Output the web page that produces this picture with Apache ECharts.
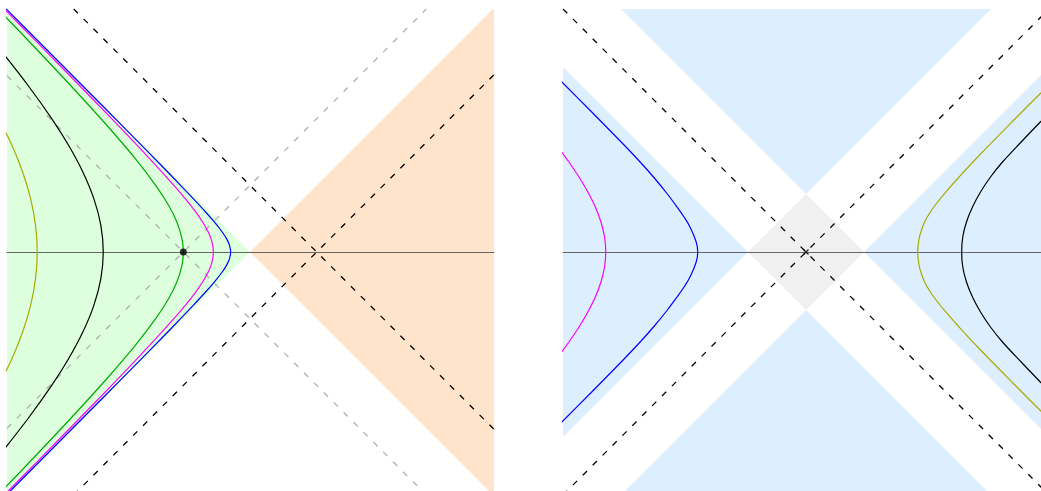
<!DOCTYPE html>
<html><head><meta charset="utf-8">
<script src="https://cdn.jsdelivr.net/npm/echarts@6/dist/echarts.min.js"></script>
<style>html,body{margin:0;padding:0;background:#fff}#c{width:1041px;height:491px}</style>
</head><body><div id="c"></div>
<script>
// ---------- Left panel (unit: the two marked events sit at x = -1 and x = +1) ----------
const leftExtent = {xmin: -3.643, xmax: 3.658, ymin: -3.643, ymax: 3.643};
const leftGreenWedge = [[0, 0], [-3.643, 3.643], [-3.643, -3.643]];
const leftOrangeWedge = [[0, 0], [3.643, 3.643], [3.7, 3.643], [3.7, -3.7], [3.643, -3.643]];
const leftBlackDashA = [[-2.643, 3.643], [3.658, -2.658]];
const leftBlackDashB = [[-2.643, -3.643], [3.658, 2.658]];
const leftGrayDashA = [[-3.643, -2.643], [2.643, 3.643]];
const leftGrayDashB = [[-3.643, 2.643], [2.643, -3.643]];
const leftEvent = [[-1, 0]];
const leftBlue = [[-3.911,3.9],[-3.412,3.4],[-2.815,2.8],[-2.219,2.2],[-1.725,1.7],[-1.332,1.3],[-1.041,1.0],[-0.851,0.8],[-0.666,0.6],[-0.535,0.45],[-0.417,0.3],[-0.352,0.2],[-0.307,0.1],[-0.290,0],
  [-0.307,-0.1],[-0.352,-0.2],[-0.417,-0.3],[-0.535,-0.45],[-0.666,-0.6],[-0.851,-0.8],[-1.041,-1.0],[-1.332,-1.3],[-1.725,-1.7],[-2.219,-2.2],[-2.815,-2.8],[-3.412,-3.4],[-3.911,-3.9]];
const leftMagenta = [[-3.939,3.9],[-3.444,3.4],[-2.854,2.8],[-2.268,2.2],[-1.787,1.7],[-1.412,1.3],[-1.141,1.0],[-0.971,0.8],[-0.814,0.6],[-0.711,0.45],[-0.626,0.3],[-0.585,0.2],[-0.559,0.1],[-0.550,0],
  [-0.559,-0.1],[-0.585,-0.2],[-0.626,-0.3],[-0.711,-0.45],[-0.814,-0.6],[-0.971,-0.8],[-1.141,-1.0],[-1.412,-1.3],[-1.787,-1.7],[-2.268,-2.2],[-2.854,-2.8],[-3.444,-3.4],[-3.939,-3.9]];
const leftGreen = [[-3.833,3.7],[-3.257,3.1],[-2.693,2.5],[-2.147,1.9],[-1.720,1.4],[-1.414,1.0],[-1.221,0.7],[-1.097,0.45],[-1.020,0.2],[-1.0,0],
  [-1.020,-0.2],[-1.097,-0.45],[-1.221,-0.7],[-1.414,-1.0],[-1.720,-1.4],[-2.147,-1.9],[-2.693,-2.5],[-3.257,-3.1],[-3.833,-3.7]];
const leftBlack = [[-3.720,3.0],[-3.330,2.5],[-2.973,2.0],[-2.720,1.6],[-2.506,1.2],[-2.341,0.8],[-2.236,0.4],[-2.2,0],
  [-2.236,-0.4],[-2.341,-0.8],[-2.506,-1.2],[-2.720,-1.6],[-2.973,-2.0],[-3.330,-2.5],[-3.720,-3.0]];
const leftOlive = [[-3.766,2.0],[-3.569,1.6],[-3.409,1.2],[-3.289,0.8],[-3.215,0.4],[-3.19,0],
  [-3.215,-0.4],[-3.289,-0.8],[-3.409,-1.2],[-3.569,-1.6],[-3.766,-2.0]];

// ---------- Right panel (unit: half-diagonal of the grey diamond) ----------
const rightExtent = {xmin: -4.19, xmax: 4.19, ymin: -4.19, ymax: 4.19};
const rightDiamond = [[1, 0], [0, 1], [-1, 0], [0, -1]];
const rightBlueLeft = [[-1, 0], [-4.19, 3.19], [-4.19, -3.19]];
const rightBlueRight = [[1, 0], [4.19, 3.19], [4.19, -3.19]];
const rightBlueTop = [[0, 1], [-3.19, 4.19], [3.19, 4.19]];
const rightBlueBottom = [[0, -1], [-3.19, -4.19], [3.19, -4.19]];
const rightDashA = [[-4.19, -4.19], [4.19, 4.19]];
const rightDashB = [[-4.19, 4.19], [4.19, -4.19]];
const rightOrigin = [[0, 0]];
const rightBlue = [[-4.293,3.017],[-3.695,2.414],[-3.17,1.879],[-2.86,1.552],[-2.615,1.276],[-2.39,1.0],[-2.224,0.776],[-2.103,0.603],[-2.0,0.431],[-1.893,0.172],[-1.867,0],
  [-1.893,-0.172],[-2.0,-0.431],[-2.103,-0.603],[-2.224,-0.776],[-2.39,-1.0],[-2.615,-1.276],[-2.86,-1.552],[-3.17,-1.879],[-3.695,-2.414],[-4.293,-3.017]];
const rightMagenta = [[-4.276,1.810],[-4.088,1.552],[-3.914,1.293],[-3.762,1.034],[-3.633,0.776],[-3.536,0.517],[-3.474,0.259],[-3.453,0],
  [-3.474,-0.259],[-3.536,-0.517],[-3.633,-0.776],[-3.762,-1.034],[-3.914,-1.293],[-4.088,-1.552],[-4.276,-1.810]];
const rightOlive = [[4.24,2.931],[4.05,2.741],[3.55,2.241],[2.96,1.638],[2.64,1.293],[2.41,1.034],[2.27,0.862],[2.145,0.690],[2.045,0.517],[1.98,0.345],[1.945,0.207],[1.926,0],
  [1.945,-0.207],[1.98,-0.345],[2.045,-0.517],[2.145,-0.690],[2.27,-0.862],[2.41,-1.034],[2.64,-1.293],[2.96,-1.638],[3.55,-2.241],[4.05,-2.741],[4.24,-2.931]];
const rightBlack = [[4.295,2.5],[4.04,2.241],[3.71,1.897],[3.388,1.552],[3.181,1.293],[3.009,1.034],[2.871,0.776],[2.767,0.517],[2.703,0.259],[2.684,0],
  [2.703,-0.259],[2.767,-0.517],[2.871,-0.776],[3.009,-1.034],[3.181,-1.293],[3.388,-1.552],[3.71,-1.897],[4.04,-2.241],[4.295,-2.5]];

// ---------- chart ----------
const chart = echarts.init(document.getElementById('c'), null, {renderer: 'canvas'});

function poly(gi, pts, color) {
  return {
    type: 'custom', xAxisIndex: gi, yAxisIndex: gi, clip: true, silent: true, z: 1,
    data: [pts[0]],
    renderItem: (params, api) => ({
      type: 'polygon',
      shape: {points: pts.map(p => api.coord(p))},
      style: {fill: color}
    })
  };
}
function dash(gi, pts, color) {
  return {type: 'line', xAxisIndex: gi, yAxisIndex: gi, data: pts, showSymbol: false, silent: true, z: 3,
    clip: true, lineStyle: {color: color, width: 1.3, type: [6, 8]}};
}
function curve(gi, pts, color) {
  return {type: 'line', xAxisIndex: gi, yAxisIndex: gi, data: pts, showSymbol: false, silent: true, z: 5,
    smooth: 0.35, clip: true, lineStyle: {color: color, width: 1.2}};
}
function xAx(gi, e) {
  return {gridIndex: gi, type: 'value', min: e.xmin, max: e.xmax, z: 4,
    axisLine: {show: true, onZero: true, lineStyle: {color: '#666666', width: 1}},
    axisTick: {show: false}, axisLabel: {show: false}, splitLine: {show: false}};
}
function yAx(gi, e) {
  return {gridIndex: gi, type: 'value', min: e.ymin, max: e.ymax,
    axisLine: {show: false}, axisTick: {show: false}, axisLabel: {show: false}, splitLine: {show: false}};
}

chart.setOption({
  animation: false,
  backgroundColor: '#ffffff',
  grid: [
    {left: 7, top: 9, width: 487, height: 486, containLabel: false, outerBoundsMode: 'none'},
    {left: 563, top: 9, width: 486, height: 486, containLabel: false, outerBoundsMode: 'none'}
  ],
  xAxis: [xAx(0, leftExtent), xAx(1, rightExtent)],
  yAxis: [yAx(0, leftExtent), yAx(1, rightExtent)],
  series: [
    poly(0, leftGreenWedge, '#ddffdd'),
    poly(0, leftOrangeWedge, '#ffe4cc'),
    dash(0, leftGrayDashA, '#b0b0b0'),
    dash(0, leftGrayDashB, '#b0b0b0'),
    dash(0, leftBlackDashA, '#000000'),
    dash(0, leftBlackDashB, '#000000'),
    curve(0, leftOlive, '#aaaa00'),
    curve(0, leftBlack, '#000000'),
    curve(0, leftGreen, '#00aa00'),
    curve(0, leftMagenta, '#ff00ff'),
    curve(0, leftBlue, '#0000ff'),
    {type: 'scatter', xAxisIndex: 0, yAxisIndex: 0, data: leftEvent, symbol: 'circle', symbolSize: 7,
      itemStyle: {color: '#000000'}, z: 10, silent: true},

    poly(1, rightBlueLeft, '#ddeeff'),
    poly(1, rightBlueRight, '#ddeeff'),
    poly(1, rightBlueTop, '#ddeeff'),
    poly(1, rightBlueBottom, '#ddeeff'),
    poly(1, rightDiamond, '#f0f0f0'),
    dash(1, rightDashA, '#000000'),
    dash(1, rightDashB, '#000000'),
    curve(1, rightMagenta, '#ff00ff'),
    curve(1, rightBlue, '#0000ff'),
    curve(1, rightOlive, '#aaaa00'),
    curve(1, rightBlack, '#000000'),
    {type: 'scatter', xAxisIndex: 1, yAxisIndex: 1, data: rightOrigin, symbol: 'path://M0,0L10,10M10,0L0,10',
      symbolSize: 5, itemStyle: {color: 'none', borderColor: '#000000', borderWidth: 1.4}, z: 10, silent: true}
  ]
});
</script>
</body></html>
